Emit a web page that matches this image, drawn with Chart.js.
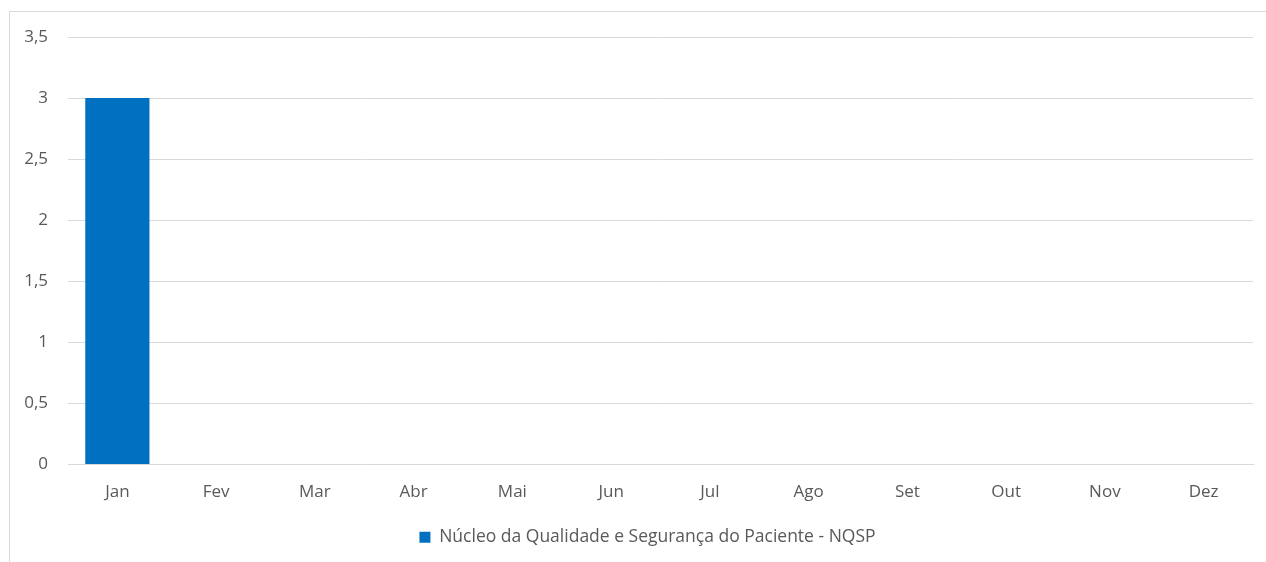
<!DOCTYPE html>
<html>
<head>
<meta charset="utf-8">
<script src="https://cdn.jsdelivr.net/npm/chart.js@4/dist/chart.umd.min.js"></script>
<style>
  html, body { margin: 0; padding: 0; background: #fff; }
  #wrap { position: relative; width: 1266px; height: 562px; }
  #frame {
    position: absolute; left: 9px; top: 11px; right: -2px; bottom: -2px;
    border-top: 1px solid #d9d9d9; border-left: 1px solid #d9d9d9;
    pointer-events: none;
  }
</style>
</head>
<body>
<div id="wrap">
  <canvas id="chart" width="1266" height="562"></canvas>
  <div id="frame"></div>
</div>
<script>
// data
const months = ['Jan', 'Fev', 'Mar', 'Abr', 'Mai', 'Jun', 'Jul', 'Ago', 'Set', 'Out', 'Nov', 'Dez']
const nqspValues = [3, 0, 0, 0, 0, 0, 0, 0, 0, 0, 0, 0]
const seriesName = 'Núcleo da Qualidade e Segurança do Paciente - NQSP'

const textColor = '#595959'
const gridColor = '#d9d9d9'

Chart.defaults.font.family = "'Open Sans', 'Noto Sans', sans-serif"
Chart.defaults.font.size = 17
Chart.defaults.color = textColor

// nudge legend to the right, like the original
const legendShift = {
  id: 'legendShift',
  afterLayout: chart => {
    chart.legend.left += 21
    chart.legend.right += 21
  }
}

const ctx = document.querySelector('#chart').getContext('2d')

new Chart(ctx, {
  type: 'bar',
  data: {
    labels: months,
    datasets: [{
      label: seriesName,
      data: nqspValues,
      backgroundColor: '#0070c0',
      borderWidth: 0,
      categoryPercentage: 0.65,
      barPercentage: 1
    }]
  },
  options: {
    responsive: false,
    animation: false,
    layout: { padding: { left: 0, right: 13, top: 37, bottom: 6 } },
    plugins: {
      tooltip: { enabled: false },
      legend: {
        position: 'bottom',
        labels: {
          boxWidth: 11,
          boxHeight: 11,
          padding: 10,
          font: { size: 17.5 },
          color: textColor
        }
      }
    },
    scales: {
      x: {
        grid: { display: false },
        border: { display: true, color: gridColor, width: 1 },
        ticks: { padding: 9, color: textColor },
        afterFit: axis => { axis.height = 54 }
      },
      y: {
        min: 0,
        max: 3.5,
        ticks: {
          stepSize: 0.5,
          padding: 20,
          color: textColor,
          callback: v => String(v).replace('.', ',')
        },
        grid: { color: gridColor, drawTicks: false },
        border: { display: false },
        afterFit: axis => { axis.width = 68 }
      }
    }
  },
  plugins: [legendShift]
})
</script>
</body>
</html>
